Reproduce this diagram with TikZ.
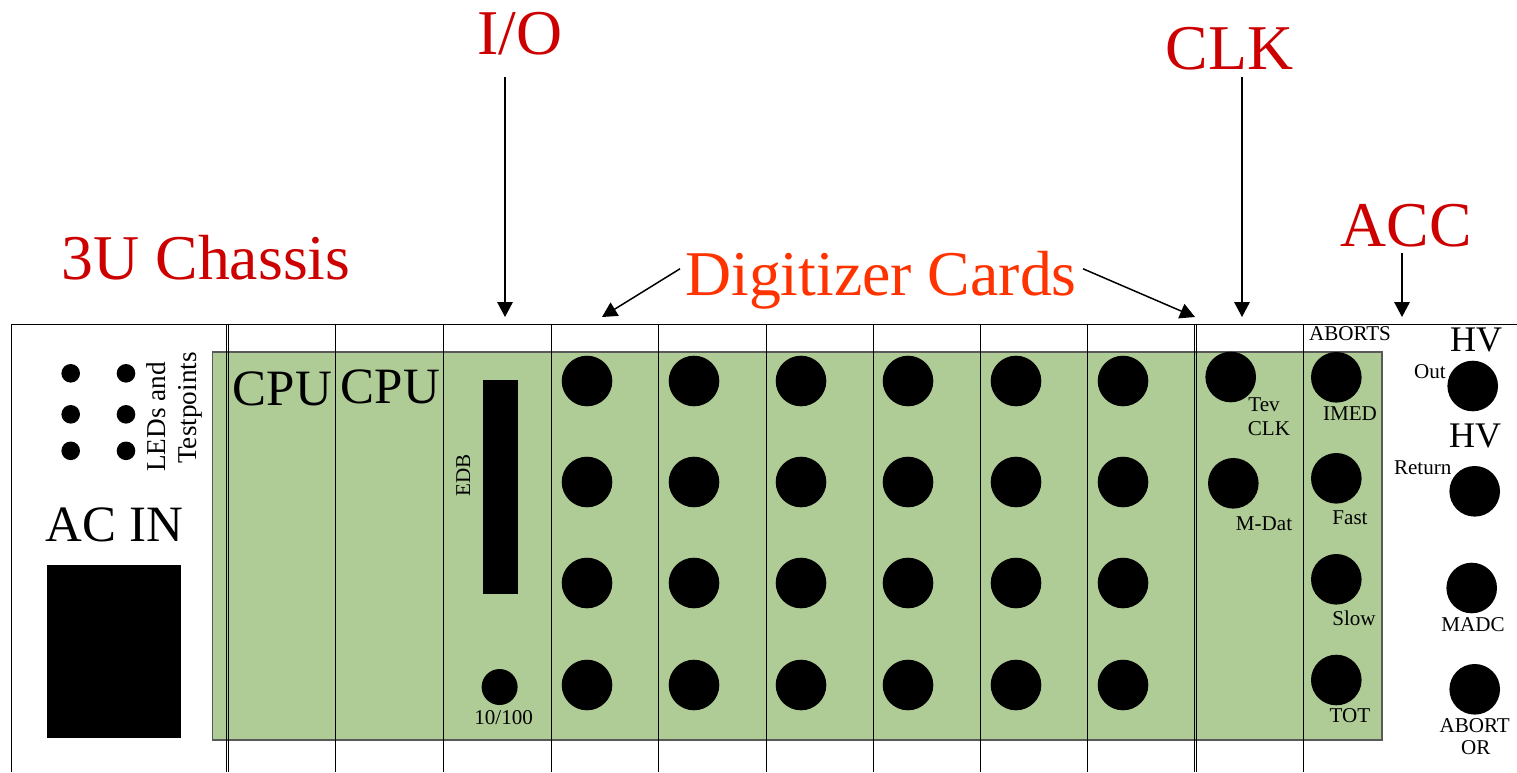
\documentclass[tikz,border=0pt]{standalone}
\usepackage{fontspec}
\setmainfont{Liberation Serif}
\usetikzlibrary{arrows.meta}

\definecolor{boardgreen}{RGB}{176,204,150}
\definecolor{tagred}{RGB}{204,0,0}
\definecolor{cardorange}{RGB}{255,51,0}

\tikzset{
  slotline/.style={line width=0.7pt},
  sigarrow/.style={line width=0.85pt, -{Triangle[length=8.5pt, width=8.8pt]}},
  tinytext/.style={anchor=base, inner sep=0pt, scale=1.2},
  sidetext/.style={anchor=base, inner sep=0pt, scale=1.55, rotate=90},
  hvtext/.style={anchor=base, inner sep=0pt, scale=2.05},
  bigtext/.style={anchor=base, inner sep=0pt, scale=2.9},
  tagtext/.style={anchor=base, inner sep=0pt, scale=3.63, tagred}
}

\begin{document}
\begin{tikzpicture}[x=0.02cm, y=-0.02cm]

  \useasboundingbox (0,0) rectangle (1517,772);

  % green board behind the card slots
  \fill[boardgreen, draw=black!65, line width=0.7pt] (212.5,352) rectangle (1382,740);

  % chassis outline and slot lines
  \draw[slotline] (11.5,772) -- (11.5,324.5) -- (1517,324.5);
  \draw[slotline] (226.5,324.5) -- (226.5,772);
  \draw[slotline] (228.8,324.5) -- (228.8,772);
  \draw[slotline] (335.8,324.5) -- (335.8,772);
  \draw[slotline] (443.5,324.5) -- (443.5,772);
  \draw[slotline] (551.5,324.5) -- (551.5,772);
  \draw[slotline] (658.5,324.5) -- (658.5,772);
  \draw[slotline] (766.5,324.5) -- (766.5,772);
  \draw[slotline] (873.5,324.5) -- (873.5,772);
  \draw[slotline] (980.5,324.5) -- (980.5,772);
  \draw[slotline] (1087.5,324.5) -- (1087.5,772);
  \draw[slotline] (1194.5,324.5) -- (1194.5,772);
  \draw[slotline] (1196.8,324.5) -- (1196.8,772);
  \draw[slotline] (1303.8,324.5) -- (1303.8,772);

  % power supply slot
  \fill (70.7,373.3) circle (9.3) (126,373.3) circle (9.3);
  \fill (70.7,414.3) circle (9.3) (126,414.3) circle (9.3);
  \fill (70.7,450.8) circle (9.3) (126,450.8) circle (9.3);
  \fill (47.2,565) rectangle (181,738);
  \node[sidetext] (ledlabel) at (165.5,417) {LEDs and};
  \node[sidetext] (testlabel) at (196.4,408) {Testpoints};
  \node[bigtext] (acinlabel) at (114.5,541.7) {AC IN};

  % CPU slots
  \node[bigtext] (cpuonelabel) at (282.5,405.7) {CPU};
  \node[bigtext] (cputwolabel) at (390.5,403.7) {CPU};

  % I/O slot
  \fill (483,380) rectangle (517.5,594);
  \fill (499.6,687) circle (18);
  \node[tinytext, rotate=90] (edblabel) at (470,475.7) {EDB};
  \node[tinytext] (netlabel) at (503.6,724.7) {10/100};

  % digitizer connectors, one path per card
  \fill (587,381) circle (25.3) (587,482) circle (25.3) (587,583) circle (25.3) (587,685) circle (25.3);
  \fill (694,381) circle (25.3) (694,482) circle (25.3) (694,583) circle (25.3) (694,685) circle (25.3);
  \fill (801,381) circle (25.3) (801,482) circle (25.3) (801,583) circle (25.3) (801,685) circle (25.3);
  \fill (908,381) circle (25.3) (908,482) circle (25.3) (908,583) circle (25.3) (908,685) circle (25.3);
  \fill (1016,381) circle (25.3) (1016,482) circle (25.3) (1016,583) circle (25.3) (1016,685) circle (25.3);
  \fill (1123,381) circle (25.3) (1123,482) circle (25.3) (1123,583) circle (25.3) (1123,685) circle (25.3);

  % clock card
  \fill (1230.7,377) circle (25.3) (1233.3,483.3) circle (25.3);
  \node[tinytext] (tevlabel) at (1264,411.7) {Tev};
  \node[tinytext] (clklabel) at (1269,435.7) {CLK};
  \node[tinytext] (mdatlabel) at (1264,530) {M-Dat};

  % ACC card, aborts column
  \fill (1336.3,377.3) circle (25.3) (1336.3,478.3) circle (25.3) (1336.3,579.3) circle (25.3) (1336.3,680) circle (25.3);
  \node[tinytext] (abortslabel) at (1350,340.7) {ABORTS};
  \node[tinytext] (imedlabel) at (1350,420) {IMED};
  \node[tinytext] (fastlabel) at (1350,524) {Fast};
  \node[tinytext] (slowlabel) at (1354,625) {Slow};
  \node[tinytext] (totlabel) at (1350,722.7) {TOT};

  % ACC card, right hand column
  \fill (1472.7,386) circle (25.3) (1474.7,491.3) circle (25.3) (1471.7,588) circle (25.3) (1474.7,689.3) circle (25.3);
  \node[hvtext] (hvonelabel) at (1476,351.7) {HV};
  \node[hvtext] (hvtwolabel) at (1475,447.7) {HV};
  \node[tinytext] (outlabel) at (1430,378) {Out};
  \node[tinytext] (returnlabel) at (1422.7,474) {Return};
  \node[tinytext] (madclabel) at (1473,631) {MADC};
  \node[tinytext] (abortlabel) at (1474.7,732) {ABORT};
  \node[tinytext] (orlabel) at (1475.7,754) {OR};

  % red tags above the chassis
  \node[tagtext] (chassistag) at (206,279) {3U Chassis};
  \node[tagtext] (iotag) at (520,54) {I/O};
  \node[tagtext] (clktag) at (1229.5,69) {CLK};
  \node[tagtext] (acctag) at (1406.5,246) {ACC};
  \node[tagtext, cardorange] (cardstag) at (881,295) {Digitizer Cards};

  % arrow tips at the top of the slots
  \coordinate (iotip) at (505,317);
  \coordinate (clktip) at (1242,317);
  \coordinate (acctip) at (1402,317);
  \coordinate (cardlefttip) at (602,317);
  \coordinate (cardrighttip) at (1195,317);

  % arrows
  \draw[sigarrow] (iotag.south -| iotip) ++(0,21) -- (iotip);
  \draw[sigarrow] (clktag.south -| clktip) ++(0,6) -- (clktip);
  \draw[sigarrow] (acctag.south -| acctip) ++(0,5) -- (acctip);
  \draw[sigarrow] (cardstag.west) ++(-4,-11) -- (cardlefttip);
  \draw[sigarrow] (cardstag.east) ++(5,-11) -- (cardrighttip);

\end{tikzpicture}
\end{document}
